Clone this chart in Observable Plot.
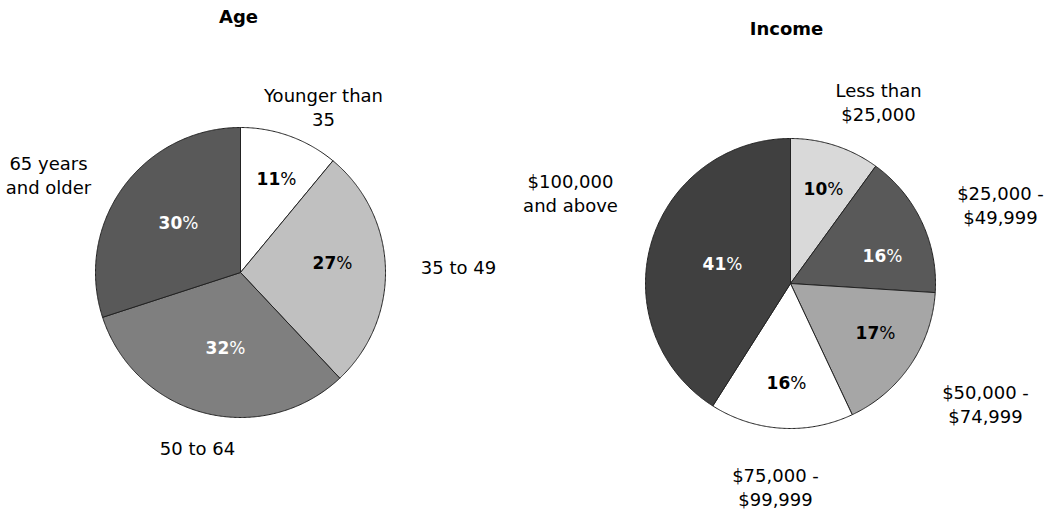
<!DOCTYPE html>
<html>
<head>
<meta charset="utf-8">
<script src="https://cdn.jsdelivr.net/npm/d3@7"></script>
<script src="https://cdn.jsdelivr.net/npm/@observablehq/plot@0.6"></script>
<style>
  html, body { margin: 0; padding: 0; background: #fff; }
  svg { display: block; }
</style>
</head>
<body>
<div id="chart"></div>
<script>
// ---- Data ----
const ageCategories = ["Younger than\n35", "35 to 49", "50 to 64", "65 years\nand older"];
const ageValues = [11, 27, 32, 30];
const incomeCategories = ["Less than\n$25,000", "$25,000 -\n$49,999", "$50,000 -\n$74,999", "$75,000 -\n$99,999", "$100,000\nand above"];
const incomeValues = [10, 16, 17, 16, 41];

// ---- Styles ----
const ageFills = ["#ffffff", "#c0c0c0", "#7f7f7f", "#595959"];
const ageTextFills = ["#000000", "#000000", "#ffffff", "#ffffff"];
const incomeFills = ["#d9d9d9", "#595959", "#a6a6a6", "#ffffff", "#404040"];
const incomeTextFills = ["#000000", "#ffffff", "#000000", "#000000", "#ffffff"];

// ---- Layout (pixels) ----
const W = 1059, H = 513;
const agePie = {cx: 240, cy: 272, r: 145, title: "Age", titleX: 238, titleY: 17};
const incomePie = {cx: 790, cy: 283, r: 145, title: "Income", titleX: 786, titleY: 29};
// percentage label offsets from pie centre
const ageInnerOffsets = [[36, -93], [92, -9], [-15, 76], [-62, -49]];
const incomeInnerOffsets = [[33, -94], [92, -27], [85, 50], [-4, 100], [-68, -19]];
// category label offsets from pie centre
const ageOuterOffsets = [[83, -166], [218, -6], [-43, 175], [-192, -98]];
const incomeOuterOffsets = [[88, -182], [210, -79], [195, 120], [-15, 203], [-220, -91]];

const FONT = "DejaVu Sans, Verdana, sans-serif";
const PCT_SIZE = 17;

// text measuring
const ctx = document.createElement("canvas").getContext("2d");
function measure(t, weight, size) {
  ctx.font = `${weight} ${size}px DejaVu Sans`;
  return ctx.measureText(t).width;
}

function buildPie(pie, cats, vals, fills, textFills, innerOff, outerOff) {
  const arcs = d3.pie().sort(null).value(d => d)(vals);
  const polys = [];
  const inner = [];
  const outer = [];
  arcs.forEach((a, i) => {
    const key = pie.title + i;
    polys.push({key, x: pie.cx, y: pie.cy, fill: fills[i]});
    const n = Math.max(2, Math.ceil((a.endAngle - a.startAngle) / (Math.PI / 360)));
    for (let k = 0; k <= n; k++) {
      const t = a.startAngle + (a.endAngle - a.startAngle) * k / n;
      polys.push({key, x: pie.cx + pie.r * Math.sin(t), y: pie.cy - pie.r * Math.cos(t), fill: fills[i]});
    }
    polys.push({key, x: pie.cx, y: pie.cy, fill: fills[i]});
    const num = String(vals[i]);
    const wn = measure(num, "bold", PCT_SIZE);
    const wp = measure("%", "normal", PCT_SIZE);
    const cx = pie.cx + innerOff[i][0];
    const split = cx - (wn + wp) / 2 + wn;
    inner.push({x: split, y: pie.cy + innerOff[i][1], num, fill: textFills[i]});
    outer.push({x: pie.cx + outerOff[i][0], y: pie.cy + outerOff[i][1], text: cats[i]});
  });
  return {polys, inner, outer};
}

const age = buildPie(agePie, ageCategories, ageValues, ageFills, ageTextFills, ageInnerOffsets, ageOuterOffsets);
const inc = buildPie(incomePie, incomeCategories, incomeValues, incomeFills, incomeTextFills, incomeInnerOffsets, incomeOuterOffsets);

const polys = age.polys.concat(inc.polys);
const inner = age.inner.concat(inc.inner);
const outer = age.outer.concat(inc.outer);
const titles = [agePie, incomePie];

const chart = Plot.plot({
  width: W,
  height: H,
  margin: 0,
  x: {domain: [0, W], range: [0, W], axis: null},
  y: {domain: [0, H], range: [0, H], axis: null},
  color: {type: "identity"},
  style: {background: "#fff", fontFamily: FONT},
  marks: [
    Plot.line(polys, {x: "x", y: "y", z: "key", fill: "fill", stroke: "#222", strokeWidth: 1, strokeLinejoin: "round"}),
    Plot.text(inner, {x: "x", y: "y", text: "num", fill: "fill", textAnchor: "end", fontSize: PCT_SIZE, fontWeight: "bold", fontFamily: FONT}),
    Plot.text(inner, {x: "x", y: "y", text: () => "%", fill: "fill", textAnchor: "start", fontSize: PCT_SIZE, fontWeight: "normal", fontFamily: FONT}),
    Plot.text(outer, {x: "x", y: "y", text: "text", fill: "#000", fontSize: 18, lineHeight: 1.33, lineAnchor: "middle", fontFamily: FONT}),
    Plot.text(titles, {x: "titleX", y: "titleY", text: "title", fill: "#000", fontSize: 18, fontWeight: "bold", fontFamily: FONT})
  ]
});
document.getElementById("chart").append(chart);
</script>
</body>
</html>
